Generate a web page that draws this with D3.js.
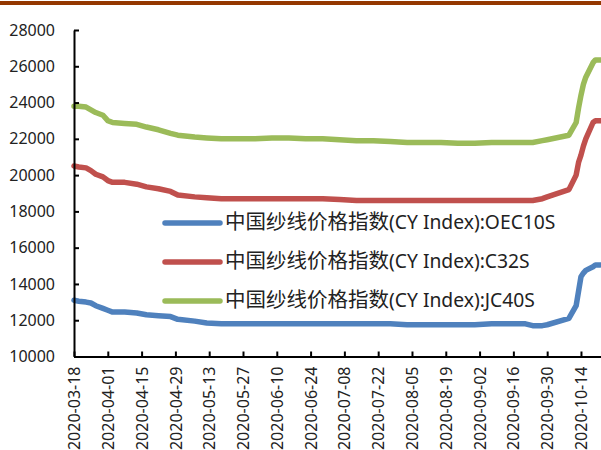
<!DOCTYPE html>
<html>
<head>
<meta charset="utf-8">
<script src="https://cdn.jsdelivr.net/npm/d3@7"></script>
<style>
  html, body { margin: 0; padding: 0; background: #fff; }
  svg { display: block; }
</style>
</head>
<body>
<script>
// Observation dates
const dates = [
  "2020-03-18","2020-03-20","2020-03-23","2020-03-25","2020-03-27","2020-03-30",
  "2020-04-01","2020-04-03","2020-04-08","2020-04-13","2020-04-17","2020-04-22",
  "2020-04-27","2020-04-30","2020-05-07","2020-05-12","2020-05-18","2020-05-25",
  "2020-06-01","2020-06-08","2020-06-15","2020-06-22","2020-06-29","2020-07-06",
  "2020-07-13","2020-07-20","2020-07-27","2020-08-03","2020-08-10","2020-08-17",
  "2020-08-24","2020-08-31","2020-09-07","2020-09-14","2020-09-21","2020-09-24",
  "2020-09-28","2020-09-30","2020-10-09","2020-10-12","2020-10-13","2020-10-14",
  "2020-10-15","2020-10-16","2020-10-19","2020-10-20","2020-10-21","2020-10-22"
];

// 中国纱线价格指数 series (元/吨)
const oec10s = [
  13100,13050,13000,12950,12800,12650,12550,12450,12450,12400,
  12300,12250,12200,12050,11950,11850,11800,11800,11800,11800,
  11800,11800,11800,11800,11800,11800,11800,11750,11750,11750,
  11750,11750,11800,11800,11800,11700,11700,11750,12100,12800,
  13600,14400,14600,14750,14950,15050,15050,15050
];
const c32s = [
  20500,20450,20400,20250,20050,19900,19700,19600,19600,19500,
  19350,19250,19100,18900,18800,18750,18700,18700,18700,18700,
  18700,18700,18700,18650,18600,18600,18600,18600,18600,18600,
  18600,18600,18600,18600,18600,18600,18700,18800,19200,20000,
  20700,21100,21600,22000,22900,23000,23000,23000
];
const jc40s = [
  23800,23800,23750,23600,23450,23300,23000,22900,22850,22800,
  22650,22500,22300,22200,22100,22050,22000,22000,22000,22050,
  22050,22000,22000,21950,21900,21900,21850,21800,21800,21800,
  21750,21750,21800,21800,21800,21800,21900,21950,22200,22900,
  23700,24400,25000,25400,26200,26350,26350,26350
];

const seriesNames = [
  "中国纱线价格指数(CY Index):OEC10S",
  "中国纱线价格指数(CY Index):C32S",
  "中国纱线价格指数(CY Index):JC40S"
];
const seriesColors = ["#4F81BD", "#C0504D", "#9BBB59"];

// Axis ticks
const xTickLabels = [
  "2020-03-18","2020-04-01","2020-04-15","2020-04-29","2020-05-13","2020-05-27",
  "2020-06-10","2020-06-24","2020-07-08","2020-07-22","2020-08-05","2020-08-19",
  "2020-09-02","2020-09-16","2020-09-30","2020-10-14"
];
const yTicks = [10000,12000,14000,16000,18000,20000,22000,24000,26000,28000];

const W = 601, H = 450;
const parse = d3.timeParse("%Y-%m-%d");

const svg = d3.select("body").append("svg")
  .attr("width", W).attr("height", H)
  .attr("viewBox", `0 0 ${W} ${H}`);

// Header rule
svg.append("rect")
  .attr("x", 0).attr("y", 1).attr("width", W).attr("height", 4)
  .attr("fill", "#943700");

const x = d3.scaleTime()
  .domain([parse("2020-03-18"), parse("2020-10-23")])
  .range([74, 602.7]);
const y = d3.scaleLinear()
  .domain([10000, 28000])
  .range([356.5, 30]);

const fontLatin = "'Noto Sans', 'DejaVu Sans', sans-serif";
const fontCJK = "'Noto Sans CJK SC', 'Noto Sans', sans-serif";
const textColor = "#222";

// Lines (series order: OEC10S, C32S, JC40S)
const allSeries = [oec10s, c32s, jc40s];
const line = d3.line()
  .x(d => x(d.date))
  .y(d => y(d.value));

allSeries.forEach((vals, i) => {
  const pts = dates.map((d, j) => ({ date: parse(d), value: vals[j] }));
  svg.append("path")
    .datum(pts)
    .attr("d", line)
    .attr("fill", "none")
    .attr("stroke", seriesColors[i])
    .attr("stroke-width", 5.5)
    .attr("stroke-linejoin", "round")
    .attr("stroke-linecap", "round");
});

// Y axis
const yAxis = svg.append("g")
  .attr("transform", `translate(${x.range()[0]},0)`)
  .call(d3.axisLeft(y).tickValues(yTicks).tickFormat(d3.format("d"))
    .tickSizeInner(-5).tickSizeOuter(0).tickPadding(19));
yAxis.select(".domain").attr("stroke", "#000").attr("stroke-width", 2);
yAxis.selectAll(".tick line").attr("stroke", "#000").attr("stroke-width", 2);
yAxis.selectAll(".tick text")
  .attr("fill", textColor)
  .style("font-family", fontLatin)
  .style("font-size", "16px");

// X axis
const xAxis = svg.append("g")
  .attr("transform", `translate(0,${y.range()[0]})`)
  .call(d3.axisBottom(x).tickValues(xTickLabels.map(parse))
    .tickFormat(d3.timeFormat("%Y-%m-%d"))
    .tickSizeInner(-5).tickSizeOuter(0));
xAxis.select(".domain").attr("stroke", "#000").attr("stroke-width", 2);
xAxis.selectAll(".tick line").attr("stroke", "#000").attr("stroke-width", 2);
xAxis.selectAll(".tick text")
  .attr("fill", textColor)
  .style("font-family", fontLatin)
  .style("font-size", "16px")
  .attr("text-anchor", "end")
  .attr("transform", "rotate(-90)")
  .attr("x", -10)
  .attr("y", 0)
  .attr("dy", "0.35em");

// Legend
const legend = svg.append("g");
seriesNames.forEach((name, i) => {
  const cy = 223 + i * 39;
  legend.append("line")
    .attr("x1", 165).attr("x2", 220)
    .attr("y1", cy).attr("y2", cy)
    .attr("stroke", seriesColors[i])
    .attr("stroke-width", 5.5)
    .attr("stroke-linecap", "round");
  const splitAt = name.indexOf("(");
  const t = legend.append("text")
    .attr("x", 225).attr("y", cy)
    .attr("dy", "0.36em")
    .attr("fill", textColor);
  t.append("tspan")
    .style("font-family", fontCJK)
    .style("font-size", "20.5px")
    .text(name.slice(0, splitAt));
  t.append("tspan")
    .style("font-family", fontLatin)
    .style("font-size", "19.3px")
    .text(name.slice(splitAt));
});
</script>
</body>
</html>
